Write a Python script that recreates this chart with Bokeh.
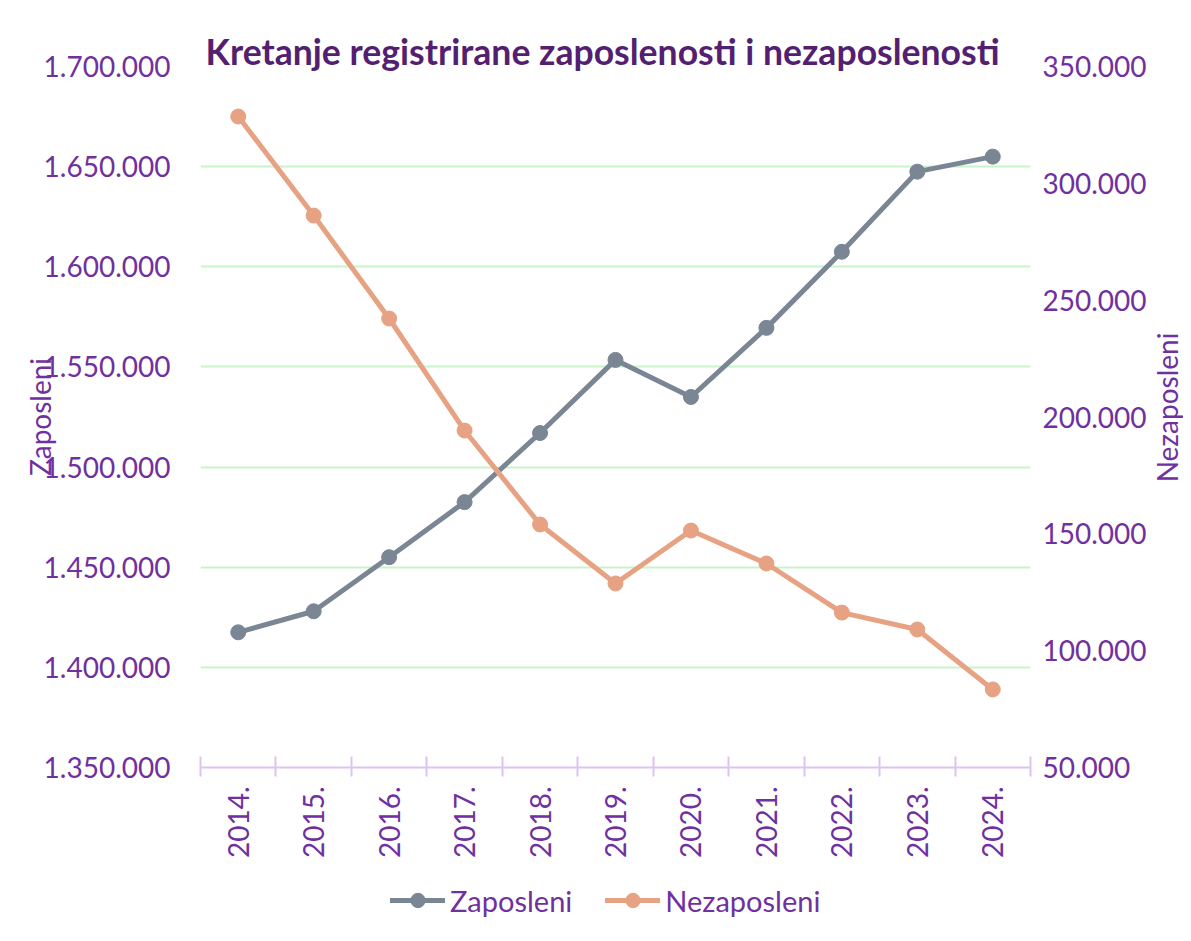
import math
from bokeh.plotting import figure
from bokeh.layouts import column, row
from bokeh.models import (Range1d, LinearAxis, FixedTicker, CustomJSTickFormatter,
                          Legend, LegendItem, Title, Label)
from bokeh.embed import file_html
from bokeh.resources import INLINE

# ---- data ----
years = [2014, 2015, 2016, 2017, 2018, 2019, 2020, 2021, 2022, 2023, 2024]
zaposleni = [1417500, 1428000, 1455000, 1482500, 1517000, 1553500,
             1535000, 1569500, 1607500, 1647500, 1655000]
nezaposleni = [328600, 286200, 242150, 194200, 154000, 128750,
               151400, 137300, 116300, 109050, 83400]
left_ticks = [1350000, 1400000, 1450000, 1500000, 1550000, 1600000, 1650000, 1700000]
right_ticks = [50000, 100000, 150000, 200000, 250000, 300000, 350000]
title_text = "Kretanje registrirane zaposlenosti i nezaposlenosti"
left_title = "Zaposleni"
right_title = "Nezaposleni"

# ---- style ----
FONT = "Lato"
TXT = "#7030A0"
TITLE_COL = "#541F70"
GRID = "#C9F3C9"
AXIS = "#DDC3EF"
GRAY = "#7A8693"
ORANGE = "#E6A283"

MAIN_W = 1149
STRIP_W = 34
MAIN_H = 865
LEG_H = 60
FR_L, FR_R, FR_T, FR_B = 200, 1031, 66, 767   # frame edges in page pixels

p = figure(width=MAIN_W, height=MAIN_H,
           x_range=Range1d(years[0] - 0.5, years[-1] + 0.5),
           y_range=Range1d(left_ticks[0], left_ticks[-1]),
           output_backend="svg", toolbar_location=None,
           min_border_left=FR_L, min_border_right=MAIN_W - FR_R,
           min_border_top=FR_T, min_border_bottom=MAIN_H - FR_B,
           background_fill_color="white", border_fill_color="white",
           outline_line_color=None)

p.extra_y_ranges = {"nez": Range1d(right_ticks[0], right_ticks[-1])}

DOT_JS = "return Math.round(tick).toString().replace(/\\B(?=(\\d{3})+(?!\\d))/g, '.');"

# title
p.title = Title(text=title_text, align="left", offset=5, standoff=-12,
                text_font=FONT, text_font_style="bold", text_font_size="35.6px",
                text_color=TITLE_COL)

# x axis
xa = p.xaxis[0]
xa.ticker = FixedTicker(ticks=years, minor_ticks=[y - 0.5 for y in years] + [years[-1] + 0.5])
xa.formatter = CustomJSTickFormatter(code="return tick + '.';")
xa.major_label_orientation = math.pi / 2
xa.major_tick_line_color = None
xa.major_tick_in = 0
xa.major_tick_out = 0
xa.minor_tick_line_color = AXIS
xa.minor_tick_line_width = 2
xa.minor_tick_in = 11
xa.minor_tick_out = 9
xa.axis_line_color = AXIS
xa.axis_line_width = 2
xa.major_label_standoff = 10
xa.major_label_text_font = FONT
xa.major_label_text_font_size = "28px"
xa.major_label_text_color = TXT

# left y axis
ya = p.yaxis[0]
ya.ticker = FixedTicker(ticks=left_ticks)
ya.formatter = CustomJSTickFormatter(code=DOT_JS)
ya.axis_line_color = None
ya.major_tick_line_color = None
ya.minor_tick_line_color = None
ya.major_tick_out = 0
ya.major_tick_in = 0
ya.major_label_standoff = 30
ya.major_label_text_font = FONT
ya.major_label_text_font_size = "28px"
ya.major_label_text_color = TXT
ya.axis_label = left_title
ya.axis_label_standoff = -16
ya.axis_label_text_font = FONT
ya.axis_label_text_font_style = "normal"
ya.axis_label_text_font_size = "28px"
ya.axis_label_text_color = TXT

# right y axis
ra = LinearAxis(y_range_name="nez", ticker=FixedTicker(ticks=right_ticks),
                formatter=CustomJSTickFormatter(code=DOT_JS),
                axis_line_color=None, major_tick_line_color=None,
                minor_tick_line_color=None, major_tick_out=0, major_tick_in=0,
                major_label_standoff=12, major_label_text_font=FONT,
                major_label_text_font_size="28px", major_label_text_color=TXT)
p.add_layout(ra, "right")

# grid
p.xgrid.visible = False
p.ygrid[0].ticker = FixedTicker(ticks=left_ticks[1:])
p.ygrid.grid_line_color = GRID
p.ygrid.grid_line_width = 2

# series
p.line(years, zaposleni, line_color=GRAY, line_width=5,
       line_join="round", line_cap="round")
p.scatter(years, zaposleni, size=15, fill_color=GRAY, line_color=GRAY)
p.line(years, nezaposleni, y_range_name="nez", line_color=ORANGE,
       line_width=5, line_join="round", line_cap="round")
p.scatter(years, nezaposleni, y_range_name="nez", size=15,
          fill_color=ORANGE, line_color=ORANGE)

# legend strip below the chart (its own figure, same series styling)
lf = figure(width=MAIN_W, height=LEG_H, output_backend="svg", toolbar_location=None,
            x_axis_type=None, y_axis_type=None,
            min_border_left=FR_L, min_border_right=MAIN_W - FR_R,
            min_border_top=0, min_border_bottom=0, outline_line_color=None,
            background_fill_color="white", border_fill_color="white")
lf.grid.visible = False
g1 = lf.line(years, zaposleni, line_color=GRAY, line_width=5, line_cap="round", visible=False)
s1 = lf.scatter(years, zaposleni, size=15, fill_color=GRAY, line_color=GRAY, visible=False)
g2 = lf.line(years, nezaposleni, line_color=ORANGE, line_width=5, line_cap="round", visible=False)
s2 = lf.scatter(years, nezaposleni, size=15, fill_color=ORANGE, line_color=ORANGE, visible=False)
legend = Legend(items=[LegendItem(label=left_title, renderers=[g1, s1]),
                       LegendItem(label=right_title, renderers=[g2, s2])],
                orientation="horizontal", location=(190, 7),
                label_text_font=FONT, label_text_font_size="29px",
                label_text_color=TXT, glyph_width=55, glyph_height=36,
                label_standoff=5, spacing=33, border_line_color=None,
                background_fill_alpha=0, margin=0, padding=4,
                inactive_fill_alpha=0)
lf.add_layout(legend)

# right-hand axis title strip
st = figure(width=STRIP_W, height=MAIN_H + LEG_H, output_backend="svg",
            toolbar_location=None, x_axis_type=None, y_axis_type=None,
            min_border_left=0, min_border_right=0, min_border_top=FR_T,
            min_border_bottom=MAIN_H + LEG_H - FR_B, outline_line_color=None,
            background_fill_color="white", border_fill_color="white")
st.grid.visible = False
st.add_layout(Label(x=STRIP_W / 2, y=360, x_units="screen", y_units="screen",
                    text=right_title, angle=math.pi / 2, text_align="center",
                    text_baseline="middle", text_font=FONT,
                    text_font_size="28px", text_color=TXT))

layout = row(column(p, lf, spacing=0), st, spacing=0)
open("out.html", "w").write(file_html(layout, INLINE))
